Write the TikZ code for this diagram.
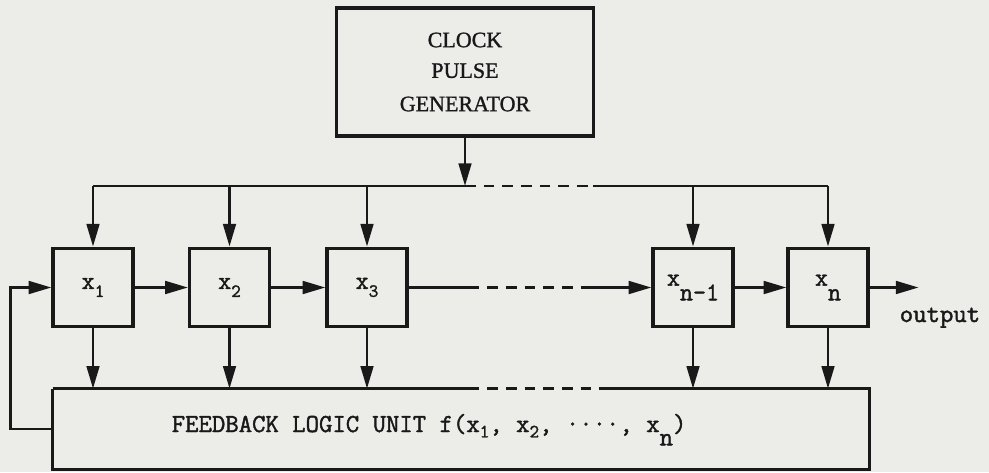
\documentclass[tikz,border=0pt]{standalone}
\usepackage{fontspec}
\setmainfont{Liberation Serif}[RawFeature={embolden=1.2}]
\setmonofont{Latin Modern Mono}[RawFeature={embolden=1.6}]
\usetikzlibrary{arrows.meta}
\definecolor{paper}{RGB}{236,236,233}
\definecolor{ink}{RGB}{25,25,25}
\newcommand{\lowsub}[2]{\raisebox{-#1}{#2}}

\begin{document}
\begin{tikzpicture}[x=0.75pt, y=-0.75pt, line width=2pt, color=ink,
  arr/.style={-{Triangle[length=17pt,width=9.5pt]}},
  reg/.style={draw, line width=2.4pt, minimum width=60pt, minimum height=59pt, inner sep=0pt, font=\fontsize{19}{22}\ttfamily},
  gap/.style={dash pattern=on 8pt off 6pt},
  tt/.style={font=\fontsize{19.5}{22}\ttfamily}]
  \useasboundingbox (0,0) rectangle (989,472);
  \fill[paper] (0,0) rectangle (989,472);
  \node[draw, line width=2.4pt, minimum width=192.75pt, minimum height=96pt, inner sep=0pt, align=center, font=\fontsize{16.5}{23}\selectfont] (clock) at (465,72) {CLOCK\\PULSE\\[2pt]GENERATOR};
  \node[reg] (x1) at (93,287.5) {x\lowsub{6pt}{\fontsize{14}{14}\selectfont 1}};
  \node[reg] (x2) at (229.5,287.5) {x\lowsub{6pt}{\fontsize{14}{14}\selectfont 2}};
  \node[reg] (x3) at (367,287.5) {x\lowsub{6pt}{\fontsize{14}{14}\selectfont 3}};
  \node[reg] (xm) at (693,287.5) {x\lowsub{11pt}{n-1}};
  \node[reg] (xn) at (828,287.5) {x\lowsub{11pt}{n}};
  \node[minimum width=610.5pt, minimum height=58.5pt, inner sep=0pt] (fb) at (461,429) {};
  \node[tt, anchor=base west] (fbtext) at (166,432) {FEEDBACK LOGIC UNIT f(x\lowsub{4pt}{\fontsize{14}{14}\selectfont 1}, x\lowsub{4pt}{\fontsize{14}{14}\selectfont 2}, ····, x\lowsub{10pt}{n})};
  \node[tt, anchor=base west] (out) at (894,322) {output};
  % feedback box, broken along the top
  \draw[line width=2.4pt] (fb.north west) -- ++(416,0) coordinate (fbgap);
  \draw[gap, line width=2.4pt] (fbgap) -- ++(130,0) coordinate (fbgapend);
  \draw[line width=2.4pt] (fbgapend) -- (fb.north east) -- (fb.south east) -- (fb.south west) -- (fb.north west);
  % clock bus
  \coordinate (bus) at (465,186);
  \draw[arr] (clock.south) -- (bus);
  \draw (x1.north |- bus) -- (bus);
  \draw[gap] (bus) -- ++(128,0) coordinate (busgap);
  \draw (busgap) -- (xn.north |- bus);
  \foreach \r in {x1,x2,x3,xm,xn} {
    \draw[arr] (\r.north |- bus) -- (\r.north);
    \draw[arr] (\r.south) -- (\r.south |- fb.north);
  }
  % shift chain
  \draw[arr] (x1) -- (x2);
  \draw[arr] (x2) -- (x3);
  \draw (x3.east) -- ++(60,0) coordinate (chaina);
  \draw[gap] (chaina) -- ++(120,0) coordinate (chainb);
  \draw[arr] (chainb) -- (xm.west);
  \draw[arr] (xm) -- (xn);
  \draw[arr] (xn.east) -- ++(49,0);
  \draw[arr] (fb.west) -- ++(-42,0) |- (x1.west);
\end{tikzpicture}
\end{document}
